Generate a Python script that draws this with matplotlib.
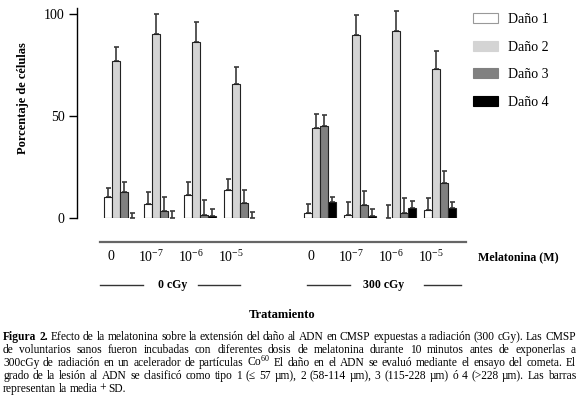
import numpy as np
import matplotlib
matplotlib.use("Agg")
import matplotlib.pyplot as plt
from matplotlib.patches import Patch
from matplotlib.lines import Line2D

plt.rcParams['font.family'] = ['Liberation Serif', 'DejaVu Serif']
plt.rcParams['mathtext.fontset'] = 'custom'
plt.rcParams['mathtext.rm'] = 'Liberation Serif'

# --- data (percent of cells, mean and top of SD bar) ---
groups = [0, 1, 2, 3, 5, 6, 7, 8]          # 0 cGy: 0..3, 300 cGy: 5..8
dose_labels = ["0", r"$\mathregular{10^{-7}}$", r"$\mathregular{10^{-6}}$", r"$\mathregular{10^{-5}}$"] * 2
series = ["Daño 1", "Daño 2", "Daño 3", "Daño 4"]
colors = ["white", "#d4d4d4", "#808080", "black"]

dano1 = [10.3, 6.7, 11.1, 13.7, 2.3, 1.3, 0.0, 4.1]
dano2 = [76.8, 90.2, 86.1, 65.7, 44.3, 89.9, 91.4, 73.2]
dano3 = [12.7, 3.3, 1.7, 7.5, 45.3, 6.2, 2.3, 17.0]
dano4 = [0.0, 0.0, 1.0, 0.0, 8.0, 0.8, 4.9, 5.1]

sd1 = [4.6, 6.2, 6.5, 5.6, 4.6, 6.5, 6.2, 5.6]
sd2 = [6.9, 9.8, 9.8, 8.3, 6.7, 9.6, 10.1, 8.7]
sd3 = [5.1, 7.0, 7.0, 6.4, 5.0, 7.0, 7.4, 6.2]
sd4 = [2.6, 3.4, 3.3, 3.1, 2.3, 3.5, 3.3, 2.7]

caption = [
    "Figura 2. Efecto de la melatonina sobre la extensión del daño al ADN en CMSP expuestas a radiación (300 cGy). Las CMSP",
    "de voluntarios sanos fueron incubadas con diferentes dosis de melatonina durante 10 minutos antes de exponerlas a",
    r"300cGy de radiación en un acelerador de partículas Co$\mathregular{^{60}}$ El daño en el ADN se evaluó mediante el ensayo del cometa. El",
    "grado de la lesión al ADN se clasificó como tipo 1 (≤ 57 µm), 2 (58-114 µm), 3 (115-228 µm) ó 4 (>228 µm). Las barras",
    "representan la media + SD.",
]

W, H = 580, 397


def px(x, y):
    return x / W, 1 - y / H


fig = plt.figure(figsize=(W / 100, H / 100), dpi=100)
ax = fig.add_axes([77 / W, 1 - 218 / H, 500 / W, 210 / H])

means = [dano1, dano2, dano3, dano4]
sds = [sd1, sd2, sd3, sd4]
x = np.array(groups, dtype=float)
bw = 0.2
for j in range(4):
    xs = x + j * bw
    ax.bar(xs, means[j], width=bw, align='edge', color=colors[j],
           edgecolor='#222222', linewidth=0.8, zorder=2)
    ax.errorbar(xs + bw / 2, means[j], yerr=[np.zeros(len(x)), sds[j]],
                fmt='none', ecolor='#3a3a3a', elinewidth=1.2, capsize=1.8,
                capthick=1.2, zorder=1, clip_on=False)

ax.set_xlim(-0.675, 11.825)
ax.set_ylim(0, 102.9)
ax.set_yticks([0, 50, 100])
ax.tick_params(axis='y', length=6, width=1, labelsize=10, pad=3)
ax.set_xticks([])
for s in ['top', 'right', 'bottom']:
    ax.spines[s].set_visible(False)
ax.spines['left'].set_linewidth(1)

# dose labels under each group
for g, lab in zip(groups, dose_labels):
    ax.text(g + 0.4 - 0.22, -19.0, lab, ha='center', va='center', fontsize=10)

fig.text(*px(23, 98), "Porcentaje de células", rotation=90, ha='center',
         va='center', fontsize=9, fontweight='bold')

# legend
handles = [Patch(facecolor=c, edgecolor='#999999' if c == 'white' else c, linewidth=0.8)
           for c in colors]
fig.legend(handles, series, loc='upper left', bbox_to_anchor=px(473, 13),
           frameon=False, fontsize=10, handlelength=1.8, handleheight=0.75,
           labelspacing=1.05, handletextpad=0.7, borderpad=0, borderaxespad=0)

# treatment annotations
fig.add_artist(Line2D([100 / W, 466 / W], [1 - 242 / H] * 2, color='#666666', lw=1.6))
fig.text(*px(478, 257), "Melatonina (M)", ha='left', va='center', fontsize=8.6, fontweight='bold')
for x0, x1 in [(100, 143), (198, 240), (307, 350), (424, 461)]:
    fig.add_artist(Line2D([x0 / W, x1 / W], [1 - 285 / H] * 2, color='#333333', lw=1))
fig.text(*px(173, 285), "0 cGy", ha='center', va='center', fontsize=8.5, fontweight='bold')
fig.text(*px(384, 285), "300 cGy", ha='center', va='center', fontsize=8.5, fontweight='bold')
fig.text(*px(282, 315), "Tratamiento", ha='center', va='center', fontsize=9, fontweight='bold')

# justified caption, words placed on a common baseline
renderer = fig.canvas.get_renderer()
left, right = 3, 576
for i, line in enumerate(caption):
    y = 340 + i * 13
    words = line.split(" ")
    texts = []
    for k, w in enumerate(words):
        bold = (i == 0 and k < 2)
        t = fig.text(*px(left, y), w, ha='left', va='baseline', fontsize=8.3,
                     fontweight='bold' if bold else 'normal')
        texts.append(t)
    widths = [t.get_window_extent(renderer).width for t in texts]
    if i < len(caption) - 1:
        gap = (right - left - sum(widths)) / (len(words) - 1)
    else:
        gap = 2.4
    xpos = left
    for t, wd in zip(texts, widths):
        t.set_position(px(xpos, y))
        xpos += wd + gap

fig.savefig("out.png", dpi=100)
